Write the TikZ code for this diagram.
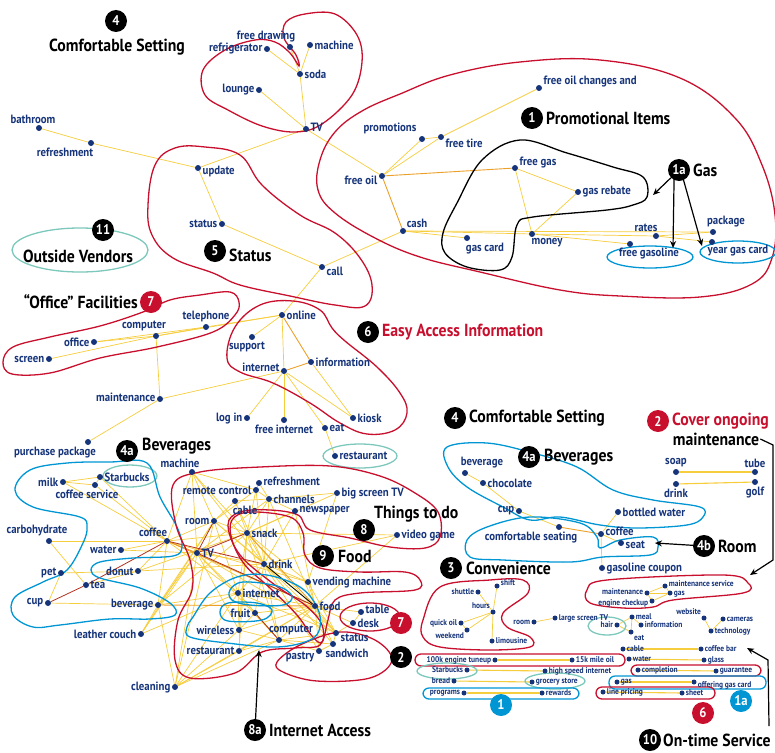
\documentclass[tikz,border=0pt]{standalone}
\usepackage{fontspec}
\setmainfont{PT Sans}
\newfontfamily\ptcond[FakeStretch=0.9]{PT Sans}
\usepackage{tikz}
\usetikzlibrary{arrows.meta,backgrounds,positioning,shapes.geometric}

\definecolor{navy}{RGB}{22,52,122}
\definecolor{loopred}{RGB}{200,16,46}
\definecolor{loopblue}{RGB}{0,150,212}
\definecolor{loopteal}{RGB}{125,200,188}
\definecolor{edgeyel}{RGB}{246,205,60}
\definecolor{edgeorg}{RGB}{235,160,40}
\definecolor{edgered}{RGB}{180,50,30}

\newcommand{\lblfont}{\ptcond\bfseries\fontsize{12}{13}\selectfont}
\newcommand{\smlfont}{\ptcond\bfseries\fontsize{8.3}{9}\selectfont}
\newcommand{\hdfont}{\ptcond\bfseries\fontsize{17.5}{18}\selectfont}
\newcommand{\bdgfont}{\ptcond\bfseries\fontsize{14}{14}\selectfont}

\tikzset{
  dot/.style={circle,fill=navy,inner sep=0pt,minimum size=6pt},
  sdot/.style={dot,minimum size=5pt},
  lbl/.style={text=navy,font=\lblfont,inner sep=1.3pt},
  slbl/.style={text=navy,font=\smlfont,inner sep=1pt},
  badge/.style={circle,fill=black,text=white,inner sep=0pt,minimum size=22pt,font=\bdgfont},
  badgeR/.style={badge,fill=loopred},
  badgeB/.style={badge,fill=loopblue},
  hd/.style={font=\hdfont,inner sep=1pt,anchor=west},
  ln/.style={edgeyel,line width=0.7pt},
  lnw/.style={edgeyel,line width=1.1pt},
  lno/.style={edgeorg,line width=0.9pt},
  lnr/.style={edgered,line width=0.8pt},
  hull/.style={line width=1.3pt},
  arr/.style={-{Stealth[length=7pt,width=6pt]},line width=1.2pt}
}

\begin{document}
\begin{tikzpicture}[x=1pt,y=-1pt]
    % Rahmen
    \useasboundingbox (0,0) rectangle (775,752);

    % Knoten oben links
    \node[dot,label={[lbl]left:refrigerator}] (refrig) at (267,49) {};
    \node[dot,label={[lbl,xshift=-24pt]above:free drawing}] (freedraw) at (290,47) {};
    \node[dot,label={[lbl]right:machine}] (machineT) at (310,45) {};
    \node[dot,label={[lbl]right:soda}] (soda) at (300,74) {};
    \node[dot,label={[lbl]left:lounge}] (lounge) at (259,90) {};
    \node[dot,label={[lbl,yshift=2pt]right:TV}] (tvT) at (306,129) {};
    \node[dot,label={[lbl,xshift=-6pt]above:bathroom}] (bathroom) at (39,128) {};
    \node[dot,label={[lbl,xshift=-26pt]below:refreshment}] (refreshT) at (91,143) {};
    \node[dot,label={[lbl,yshift=-3pt]right:update}] (update) at (198,168) {};
    \node[dot,label={[lbl]left:status}] (statusT) at (222,224) {};
    \node[dot,label={[lbl,yshift=-4pt]right:call}] (call) at (322,267) {};

    % Knoten Promotional Items
    \node[dot,label={[lbl,yshift=-4pt]left:free oil}] (freeoil) at (382,176) {};
    \node[dot,label={[lbl,xshift=-32pt]above:promotions}] (promotions) at (422,139) {};
    \node[dot,label={[lbl,yshift=-6pt]right:free tire}] (freetire) at (441,137) {};
    \node[dot,label={[lbl,yshift=6pt]right:free oil changes and}] (freeoilch) at (539,88) {};
    \node[dot,label={[lbl,yshift=5pt]right:free gas}] (freegas) at (515,168) {};
    \node[dot,label={[lbl]right:gas rebate}] (gasrebate) at (578,192) {};
    \node[dot,label={[lbl]above right:cash}] (cash) at (403,231) {};
    \node[dot,label={[lbl,xshift=18pt]below:gas card}] (gascard) at (467,238) {};
    \node[dot,label={[lbl,xshift=15pt]below:money}] (money) at (532,234) {};
    \node[dot,label={[lbl,xshift=-10pt]above:rates}] (rates) at (656,236) {};
    \node[dot,label={[lbl,xshift=13pt]above:package}] (package) at (713,232) {};
    \node[dot,label={[lbl,xshift=19pt,yshift=1pt]below:free gasoline}] (freegasoline) at (630,244) {};
    \node[dot,label={[lbl,xshift=26pt,yshift=2pt]below:year gas card}] (yeargas) at (712,242) {};

    % Knoten Easy Access / Office
    \node[dot,label={[lbl]right:online}] (online) at (282,315) {};
    \node[dot,label={[lbl,xshift=-5pt]below:support}] (support) at (252,337) {};
    \node[dot,label={[lbl,yshift=4pt]left:internet}] (internetE) at (284,371) {};
    \node[dot,label={[lbl]right:information}] (information) at (311,362) {};
    \node[dot,label={[lbl]right:kiosk}] (kiosk) at (353,418) {};
    \node[dot,label={[lbl]left:log in}] (login) at (247,418) {};
    \node[dot,label={[lbl]below:free internet}] (freeinternet) at (284,420) {};
    \node[dot,label={[lbl]right:eat}] (eatE) at (325,428) {};
    \node[dot,label={[lbl]right:restaurant}] (restaurantE) at (335,456) {};
    \node[dot,label={[lbl,xshift=-12pt]above:computer}] (computerO) at (156,336) {};
    \node[dot,label={[lbl]above:telephone}] (telephone) at (206,327) {};
    \node[dot,label={[lbl]left:office}] (office) at (94,342) {};
    \node[dot,label={[lbl]left:screen}] (screen) at (49,359) {};
    \node[dot,label={[lbl,yshift=2pt]left:maintenance}] (maintO) at (160,399) {};
    \node[dot,label={[lbl,xshift=-33pt]below:purchase package}] (purchase) at (88,442) {};

    % Knoten Cluster unten links
    \node[dot,label={[lbl,xshift=-12pt]above:machine}] (machineB) at (192,472) {};
    \node[dot,label={[lbl]left:milk}] (milk) at (63,482) {};
    \node[dot,label={[lbl]right:Starbucks}] (starbucksB) at (100,477) {};
    \node[dot,label={[lbl,xshift=-8pt]below:coffee service}] (coffeesrv) at (95,485) {};
    \node[dot,label={[lbl,xshift=-12pt]above:carbohydrate}] (carbo) at (49,541) {};
    \node[dot,label={[lbl,xshift=-14pt]above:coffee}] (coffeeB) at (167,541) {};
    \node[dot,label={[lbl]left:water}] (waterB) at (121,550) {};
    \node[dot,label={[lbl]left:room}] (roomB) at (214,521) {};
    \node[dot,label={[lbl]right:TV}] (tvB) at (197,553) {};
    \node[dot,label={[lbl]left:donut}] (donut) at (138,571) {};
    \node[dot,label={[lbl]left:pet}] (pet) at (61,573) {};
    \node[dot,label={[lbl]right:tea}] (tea) at (86,585) {};
    \node[dot,label={[lbl]left:cup}] (cupB) at (48,603) {};
    \node[dot,label={[lbl]left:beverage}] (beverageB) at (158,605) {};
    \node[dot,label={[lbl]left:remote control}] (remote) at (256,490) {};
    \node[dot,label={[lbl,yshift=2pt]right:refreshment}] (refreshB) at (259,483) {};
    \node[dot,label={[lbl]right:channels}] (channels) at (269,499) {};
    \node[dot,label={[lbl,xshift=10pt]below:cable}] (cableB) at (235,501) {};
    \node[dot,label={[lbl]right:big screen TV}] (bigtv) at (337,493) {};
    \node[dot,label={[lbl]right:newspaper}] (newspaper) at (295,511) {};
    \node[dot,label={[lbl]right:snack}] (snack) at (247,533) {};
    \node[dot,label={[lbl]right:drink}] (drinkB) at (264,564) {};
    \node[dot,label={[lbl]right:video game}] (videogame) at (397,535) {};
    \node[dot,label={[lbl]right:vending machine}] (vending) at (308,582) {};
    \node[dot,label={[lbl]right:internet}] (internetB) at (238,593) {};
    \node[dot,label={[lbl]right:food}] (food) at (315,606) {};
    \node[dot,label={[lbl]left:fruit}] (fruit) at (255,613) {};
    \node[dot,label={[lbl,yshift=3pt]right:table}] (table) at (361,612) {};
    \node[dot,label={[lbl]right:desk}] (desk) at (353,623) {};
    \node[dot,label={[lbl]left:wireless}] (wireless) at (239,630) {};
    \node[dot,label={[lbl,xshift=12pt]above:computer}] (computerB) at (279,640) {};
    \node[dot,label={[lbl,yshift=-5pt]right:status}] (statusB) at (336,633) {};
    \node[dot,label={[lbl]left:restaurant}] (restaurantB) at (239,651) {};
    \node[dot,label={[lbl,yshift=-6pt]left:pastry}] (pastry) at (319,651) {};
    \node[dot,label={[lbl,xshift=14pt]below:sandwich}] (sandwich) at (333,644) {};
    \node[dot,label={[lbl]left:leather couch}] (leather) at (141,634) {};
    \node[dot,label={[lbl]left:cleaning}] (cleaning) at (175,687) {};

    % Knoten rechts
    \node[dot,label={[lbl,xshift=17pt]above:beverage}] (beverageR) at (465,473) {};
    \node[dot,label={[lbl]right:chocolate}] (chocolate) at (483,483) {};
    \node[dot,label={[lbl]left:cup}] (cupR) at (519,511) {};
    \node[dot,label={[lbl,xshift=-28pt]below:comfortable seating}] (comfseat) at (559,527) {};
    \node[dot,label={[lbl,yshift=3pt]right:coffee}] (coffeeR) at (601,534) {};
    \node[dot,label={[lbl,yshift=-2pt]right:seat}] (seat) at (621,543) {};
    \node[dot,label={[lbl]right:bottled water}] (bottled) at (618,512) {};
    \node[dot,label={[lbl]right:gasoline coupon}] (gascoupon) at (602,568) {};
    \node[dot,label={[lbl]above:soap}] (soap) at (676,472) {};
    \node[dot,label={[lbl]above:tube}] (tube) at (755,472) {};
    \node[dot,label={[lbl]below:drink}] (drinkR) at (676,484) {};
    \node[dot,label={[lbl]below:golf}] (golf) at (755,482) {};

    % kleine Knoten rechts unten
    \node[sdot,label={[slbl]left:shuttle}] (shuttle) at (478,592) {};
    \node[sdot,label={[slbl,yshift=3pt]right:shift}] (shift) at (497,586) {};
    \node[sdot,label={[slbl]above left:hours}] (hours) at (493,612) {};
    \node[sdot,label={[slbl]left:quick oil}] (quickoil) at (461,623) {};
    \node[sdot,label={[slbl]below left:weekend}] (weekend) at (467,630) {};
    \node[sdot,label={[slbl]right:limousine}] (limousine) at (492,641) {};
    \node[sdot,label={[slbl]left:room}] (roomS) at (534,622) {};
    \node[sdot,label={[slbl]right:large screen TV}] (largetv) at (555,618) {};
    \node[sdot,label={[slbl,yshift=1pt]left:maintenance}] (maintS) at (647,593) {};
    \node[sdot,label={[slbl,yshift=2pt]right:maintenance service}] (maintsrv) at (665,586) {};
    \node[sdot,label={[slbl,yshift=-1pt]right:gas}] (gasS) at (670,593) {};
    \node[sdot,label={[slbl,yshift=-2pt]left:engine checkup}] (engine) at (652,601) {};
    \node[sdot,label={[slbl]right:meal}] (meal) at (632,617) {};
    \node[sdot,label={[slbl]right:information}] (infoS) at (641,625) {};
    \node[sdot,label={[slbl]left:hair}] (hair) at (617,625) {};
    \node[sdot,label={[slbl]below right:eat}] (eatS) at (631,632) {};
    \node[sdot,label={[slbl]above left:website}] (website) at (704,618) {};
    \node[sdot,label={[slbl]right:cameras}] (cameras) at (723,619) {};
    \node[sdot,label={[slbl]right:technology}] (technology) at (711,631) {};
    \node[sdot,label={[slbl]right:cable}] (cableS) at (623,649) {};
    \node[sdot,label={[slbl]right:coffee bar}] (coffeebar) at (701,649) {};
    \node[sdot,label={[slbl]right:water}] (waterS) at (629,659) {};
    \node[sdot,label={[slbl]right:glass}] (glass) at (704,660) {};
    \node[sdot,label={[slbl]right:completion}] (completion) at (638,670) {};
    \node[sdot,label={[slbl]right:guarantee}] (guarantee) at (716,671) {};
    \node[sdot,label={[slbl]right:gas}] (gasT) at (617,682) {};
    \node[sdot,label={[slbl,yshift=-3pt]right:offering gas card}] (offering) at (694,682) {};
    \node[sdot,label={[slbl]right:line pricing}] (linepricing) at (603,692) {};
    \node[sdot,label={[slbl]right:sheet}] (sheet) at (682,693) {};
    \node[sdot,label={[slbl]left:100k engine tuneup}] (tuneup) at (495,660) {};
    \node[sdot,label={[slbl]right:15k mile oil}] (mileoil) at (572,660) {};
    \node[sdot,label={[slbl]left:Starbucks}] (starbucksS) at (467,670) {};
    \node[sdot,label={[slbl]right:high speed internet}] (highspeed) at (545,671) {};
    \node[sdot,label={[slbl]left:bread}] (bread) at (454,681) {};
    \node[sdot,label={[slbl]right:grocery store}] (grocery) at (532,682) {};
    \node[sdot,label={[slbl]left:programs}] (programs) at (464,693) {};
    \node[sdot,label={[slbl]right:rewards}] (rewards) at (542,693) {};

    \begin{scope}[on background layer]
        % Kanten oben
        \foreach \a/\b in {freedraw/soda,refrig/soda,machineT/soda,soda/tvT,lounge/tvT,
            tvT/update,tvT/freeoil,update/refreshT,refreshT/bathroom,update/statusT,
            statusT/call,call/cash,call/online,freeoil/promotions,freeoil/freetire,
            promotions/freetire,freetire/freeoilch,cash/gascard,cash/money,cash/package,
            money/rates,money/freegasoline,rates/yeargas,freegas/gasrebate,
            freegas/money,gasrebate/money,rates/package}
            \draw[ln] (\a) -- (\b);
        \draw[lno] (freeoil) -- (freegas);
        \draw[lno] (freeoil) -- (cash);
        % Kanten Easy Access
        \foreach \a/\b in {online/support,online/internetE,online/telephone,online/computerO,
            information/kiosk,internetE/kiosk,internetE/login,internetE/freeinternet,
            internetE/eatE,internetE/maintO,eatE/restaurantE,telephone/computerO,
            computerO/office,computerO/screen,office/telephone,computerO/maintO,maintO/purchase}
            \draw[ln] (\a) -- (\b);
        \draw[lno] (online) -- (information);
        \draw[lno] (internetE) -- (information);
        % Kanten Cluster unten links
        \foreach \a/\b in {milk/starbucksB,milk/coffeesrv,starbucksB/coffeesrv,milk/coffeeB,
            starbucksB/coffeeB,coffeesrv/coffeeB,carbo/coffeeB,carbo/tea,waterB/coffeeB,
            waterB/tvB,coffeeB/machineB,coffeeB/roomB,coffeeB/snack,coffeeB/internetB,
            coffeeB/beverageB,coffeeB/vending,pet/donut,pet/cupB,cupB/beverageB,tea/donut,
            donut/coffeeB,donut/snack,donut/drinkB,beverageB/snack,beverageB/tvB,
            beverageB/roomB,beverageB/internetB,beverageB/leather,beverageB/cleaning,
            leather/tvB,leather/roomB,leather/internetB,cleaning/roomB,cleaning/tvB,
            cleaning/internetB,cleaning/restaurantB,cleaning/wireless,cleaning/computerB,
            cleaning/food,machineB/roomB,machineB/remote,machineB/tvB,machineB/snack,
            machineB/drinkB,roomB/remote,roomB/cableB,roomB/snack,roomB/drinkB,roomB/food,
            roomB/internetB,tvB/drinkB,tvB/internetB,tvB/wireless,tvB/computerB,
            tvB/channels,tvB/statusB,remote/channels,remote/refreshB,remote/snack,
            remote/drinkB,cableB/snack,cableB/channels,cableB/drinkB,channels/refreshB,
            channels/bigtv,channels/newspaper,channels/snack,channels/drinkB,channels/food,
            newspaper/snack,newspaper/food,newspaper/drinkB,bigtv/snack,bigtv/vending,
            videogame/snack,videogame/drinkB,videogame/food,snack/drinkB,snack/vending,
            snack/internetB,snack/computerB,snack/statusB,snack/wireless,drinkB/vending,
            drinkB/internetB,drinkB/computerB,drinkB/sandwich,drinkB/pastry,drinkB/statusB,
            drinkB/fruit,vending/food,vending/statusB,internetB/fruit,internetB/wireless,
            internetB/computerB,internetB/food,fruit/food,fruit/wireless,wireless/computerB,
            wireless/restaurantB,wireless/food,computerB/food,computerB/statusB,
            computerB/sandwich,computerB/pastry,restaurantB/snack,restaurantB/food,
            restaurantB/computerB,food/table,food/desk,food/statusB,food/pastry,
            food/sandwich,table/desk,statusB/sandwich,statusB/desk,pastry/sandwich,
            internetB/statusB}
            \draw[ln] (\a) -- (\b);
        \foreach \a/\b in {beverageB/food,snack/food,coffeeB/tvB,coffeeB/food}
            \draw[lno] (\a) -- (\b);
        \foreach \a/\b in {cupB/tea,tea/coffeeB,coffeeB/drinkB,roomB/tvB,tvB/snack,
            fruit/computerB,tvB/food}
            \draw[lnr] (\a) -- (\b);
        \draw[black,line width=0.8pt] (drinkB) -- (food);
        % Kanten rechts
        \foreach \a/\b in {beverageR/chocolate,chocolate/cupR,cupR/comfseat,coffeeR/bottled,
            coffeeR/seat,coffeeR/gascoupon}
            \draw[ln] (\a) -- (\b);
        \draw[lno] (comfseat) -- (coffeeR);
        \foreach \a/\b in {soap/tube,drinkR/golf}
            \draw[lnw] (\a) -- (\b);
        % Kanten klein
        \foreach \a/\b in {hours/shuttle,hours/shift,hours/quickoil,hours/weekend,
            hours/limousine,quickoil/weekend,roomS/largetv,maintS/maintsrv,maintS/gasS,
            maintsrv/gasS,engine/gasS,engine/maintS,hair/meal,hair/eatS,meal/infoS,
            meal/eatS,website/technology,cameras/technology}
            \draw[ln] (\a) -- (\b);
        \foreach \a/\b in {cableS/coffeebar,waterS/glass,completion/guarantee,gasT/offering,
            linepricing/sheet,tuneup/mileoil,starbucksS/highspeed,bread/grocery,
            programs/rewards}
            \draw[lnw] (\a) -- (\b);

        % Schleifen oben
        \draw[hull,loopred] plot[smooth cycle,tension=0.6] coordinates {(203,70) (225,50)
            (255,40) (275,42) (290,53) (299,66) (296,55) (284,38) (286,22) (305,14)
            (335,14) (357,35) (362,62) (352,95) (322,124) (295,132) (262,126) (228,110)
            (205,95)};
        \draw[hull,loopred] plot[smooth cycle,tension=0.65] coordinates {(148,205) (155,165)
            (175,148) (205,147) (240,155) (262,185) (300,215) (335,233) (360,258)
            (372,285) (365,306) (335,305) (290,296) (240,285) (213,273) (173,258) (152,235)};
        \draw[hull,loopred] plot[smooth cycle,tension=0.65] coordinates {(318,190) (320,160)
            (335,132) (362,111) (400,94) (450,75) (520,62) (600,60) (680,78) (735,118)
            (762,165) (775,215) (772,258) (752,284) (700,297) (620,296) (560,290)
            (480,272) (420,257) (375,238) (335,213)};
        \draw[hull,black] plot[smooth cycle,tension=0.6] coordinates {(482,160) (520,140)
            (567,153) (613,167) (643,177) (647,197) (633,205) (607,210) (533,217)
            (517,225) (512,257) (500,270) (467,267) (445,253) (443,233) (457,203)};
        \draw[hull,loopblue] (650,257) ellipse [x radius=43,y radius=11];
        \draw[hull,loopblue] (738,252) ellipse [x radius=38,y radius=11];
        \draw[hull,loopteal] (80,250) ellipse [x radius=68,y radius=22];
        % Schleifen Mitte
        \draw[hull,loopred] plot[smooth cycle,tension=0.6] coordinates {(3,362) (13,347)
            (50,337) (100,326) (143,312) (170,300) (200,295) (230,292) (239,302)
            (235,315) (213,332) (157,347) (100,358) (50,373) (12,374)};
        \draw[hull,loopred] plot[smooth cycle,tension=0.65] coordinates {(227,358) (235,327)
            (260,305) (293,301) (320,310) (332,328) (345,341) (377,367) (400,393)
            (407,413) (395,430) (367,434) (340,423) (310,403) (273,383) (240,372)};
        \draw[hull,loopteal] (360,456) ellipse [x radius=37,y radius=12];
        % Schleifen unten links
        \draw[hull,loopteal] (130,476) ellipse [x radius=27,y radius=11];
        \draw[hull,loopblue] plot[smooth cycle,tension=0.6] coordinates {(15,490) (30,470)
            (67,463) (110,462) (147,463) (160,497) (177,527) (182,547) (173,556)
            (133,558) (100,562) (91,570) (100,578) (140,588) (170,603) (175,615)
            (150,619) (110,619) (60,625) (33,627) (13,615) (15,597) (43,582) (67,570)
            (83,543) (87,527) (80,517) (33,507)};
        \draw[hull,loopred] plot[smooth cycle,tension=0.6] coordinates {(173,485) (200,472)
            (260,467) (330,466) (380,476) (415,493) (438,512) (440,537) (425,548)
            (390,547) (350,538) (310,530) (298,515) (270,510) (240,512) (228,525)
            (240,555) (275,585) (305,605) (322,625) (320,645) (295,648) (262,652)
            (235,673) (190,678) (175,660) (178,620) (192,590) (190,560) (176,525)};
        \draw[hull,loopred] plot[smooth cycle,tension=0.6] coordinates {(232,520) (250,512)
            (290,517) (303,533) (305,555) (320,568) (360,572) (405,572) (420,580)
            (415,590) (360,593) (335,600) (328,620) (322,642) (312,636) (297,615)
            (270,588) (245,565) (232,540)};
        \draw[hull,loopred] (370,617) ellipse [x radius=30,y radius=14];
        \draw[hull,loopred] plot[smooth cycle,tension=0.6] coordinates {(277,662) (300,645)
            (340,632) (375,640) (392,660) (370,678) (317,681) (283,672)};
        \draw[hull,loopblue] plot[smooth cycle,tension=0.6] coordinates {(193,617) (210,593)
            (237,577) (267,575) (300,587) (317,607) (320,627) (310,640) (277,647)
            (227,643) (190,637) (187,627)};
        \draw[hull,loopblue] plot[smooth cycle,tension=0.6] coordinates {(230,590) (243,582)
            (277,586) (292,596) (283,605) (250,605) (232,600)};
        \draw[hull,loopblue] plot[smooth cycle,tension=0.6] coordinates {(220,612) (228,603)
            (257,603) (272,610) (262,620) (228,621)};
        % Schleifen rechts
        \draw[hull,loopblue] plot[smooth cycle,tension=0.6] coordinates {(447,447) (487,443)
            (533,453) (577,467) (613,490) (653,500) (700,507) (703,517) (687,525)
            (637,528) (600,525) (560,517) (530,520) (503,507) (467,487) (448,467)};
        \draw[hull,loopblue] plot[smooth cycle,tension=0.6] coordinates {(467,540) (487,527)
            (530,517) (580,523) (597,537) (600,548) (620,540) (653,537) (658,547)
            (650,555) (603,557) (570,562) (503,560) (470,557)};
        \draw[hull,loopred] plot[smooth cycle,tension=0.6] coordinates {(423,620) (440,587)
            (490,580) (523,580) (528,593) (503,613) (507,627) (530,637) (530,647)
            (490,650) (440,647) (423,637)};
        \draw[hull,loopred] plot[smooth cycle,tension=0.6] coordinates {(587,590) (607,580)
            (723,575) (748,583) (743,593) (673,600) (653,607) (623,608) (590,603)};
        \draw[hull,loopteal] (607,626) ellipse [x radius=19,y radius=9];
        \draw[hull,loopred,rounded corners=6pt] (415,654) rectangle (625,666);
        \draw[hull,loopteal] (447,671) ellipse [x radius=30,y radius=8];
        \draw[hull,loopteal] (555,681) ellipse [x radius=30,y radius=8];
        \draw[hull,loopblue,rounded corners=6pt] (423,688) rectangle (579,699);
        \draw[hull,loopred,rounded corners=6pt] (631,665) rectangle (761,676);
        \draw[hull,loopblue,rounded corners=6pt] (609,676) rectangle (766,689);
        \draw[hull,loopred,rounded corners=6pt] (596,687) rectangle (715,699);
    \end{scope}

    % Nummern und Ueberschriften
    \node[badge] (bComfT) at (116,21) {4};
    \node[hd,anchor=center] (hComfT) at (117,47) {Comfortable Setting};
    \node[badge] (bPromo) at (532,118) {1};
    \node[hd] (hPromo) at (545,118) {Promotional Items};
    \node[badge] (bGas) at (679,170) {1a};
    \node[hd] (hGas) at (692,170) {Gas};
    \node[badge] (bVend) at (103,230) {11};
    \node[hd,anchor=center] (hVend) at (78,256) {Outside Vendors};
    \node[badge] (bStatus) at (215,251) {5};
    \node[hd] (hStatus) at (228,255) {Status};
    \node[badgeR] (bOffice) at (151,302) {7};
    \node[hd,anchor=east] (hOffice) at (139,302) {“Office” Facilities};
    \node[badge] (bEasy) at (368,332) {6};
    \node[hd,text=loopred] (hEasy) at (381,332) {Easy Access Information};
    \node[badge] (bBevL) at (127,451) {4a};
    \node[hd] (hBevL) at (141,446) {Beverages};
    \node[badge] (bThings) at (364,530) {8};
    \node[hd] (hThings) at (373,514) {Things to do};
    \node[badge] (bFood) at (323,556) {9};
    \node[hd] (hFood) at (337,556) {Food};
    \node[badgeR] (bDesk) at (401,623) {7};
    \node[badge] (bTwo) at (401,657) {2};
    \node[badge] (bNet) at (255,730) {8a};
    \node[hd] (hNet) at (268,730) {Internet Access};
    \node[badge] (bComfR) at (455,418) {4};
    \node[hd] (hComfR) at (468,418) {Comfortable Setting};
    \node[badgeR] (bCover) at (658,421) {2};
    \node[hd,text=loopred] (hCover) at (671,421) {Cover ongoing};
    \node[hd,anchor=center] (hMaint) at (716,439) {maintenance};
    \node[badge] (bBevR) at (529,457) {4a};
    \node[hd] (hBevR) at (543,457) {Beverages};
    \node[badge] (bRoom) at (704,546) {4b};
    \node[hd] (hRoom) at (717,546) {Room};
    \node[badge] (bConv) at (451,568) {3};
    \node[hd] (hConv) at (465,568) {Convenience};
    \node[badgeB] (bOneB) at (501,705) {1};
    \node[badgeB] (bOneA) at (741,701) {1a};
    \node[badgeR] (bSix) at (703,713) {6};
    \node[badge] (bTime) at (650,740) {10};
    \node[hd] (hTime) at (662,740) {On-time Service};

    % Pfeile
    \coordinate (gasloop) at (653,195);
    \coordinate (gasfree) at (673,248);
    \coordinate (gasyear) at (702,246);
    \draw[arr] (bGas) -- (gasloop);
    \draw[arr] (bGas.south west) ++(3,0) coordinate (gasA) -- (gasfree);
    \draw[arr] (bGas.south east) ++(-4,0) coordinate (gasB) -- (gasyear);
    \coordinate (seatpt) at (655,543);
    \draw[arr] (bRoom) -- (seatpt);
    \coordinate (mtop) at (773,445);
    \coordinate (mbend) at (773,560);
    \coordinate (mend) at (750,575);
    \draw[arr] (hMaint.east) -- (mtop) -- (mbend) -- (mend);
    \coordinate (ttop) at (769,726);
    \coordinate (tbend) at (768,660);
    \coordinate (tend) at (747,648);
    \draw[arr] (ttop) -- (tbend) -- (tend);
    \coordinate (netpt) at (259,650);
    \draw[arr] (bNet) -- (netpt);
\end{tikzpicture}
\end{document}
